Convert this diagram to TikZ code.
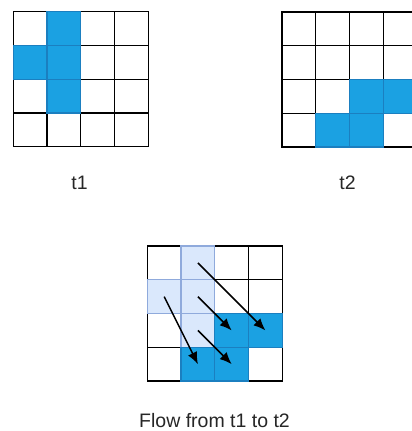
\documentclass[tikz,border=0pt]{standalone}
\usepackage{fontspec}
\setmainfont{Liberation Sans}
\usetikzlibrary{arrows.meta}
\definecolor{fullblue}{HTML}{1BA1E2}
\definecolor{fullline}{HTML}{1B7FC0}
\definecolor{paleblue}{HTML}{DAE8FC}
\definecolor{paleline}{HTML}{8FAADC}
\begin{document}
\begin{tikzpicture}[x = {(1pt,0pt)},
  y = {(0pt,-1pt)},
  cell/.style  = {draw=black, line width=1.2pt, fill=white,
                  minimum size=33.75pt, inner sep=0pt},
  full/.style  = {cell, fill=fullblue, draw=fullline},
  pale/.style  = {cell, fill=paleblue, draw=paleline},
  flow/.style  = {->, >={Latex[length=12pt,width=10pt]}, line width=1.5pt},
  caption/.style = {font=\fontsize{19.5pt}{23pt}\selectfont, text=black!85, anchor=base}]

  \useasboundingbox (0,0) rectangle (412,431);

  % cell size and grid corners
  \def\cs{33.75}
  \def\ax{13.3}  \def\ay{11.7}
  \def\bx{282}   \def\by{12}
  \def\cx{147.3} \def\cy{246}

  % grids
  \foreach \r in {0,1,...,3}
  \foreach \c in {0,1,...,3}
  {
  \node[cell] (a-\r-\c) at (\ax+\cs*\c+\cs/2, \ay+\cs*\r+\cs/2) {};
  \node[cell] (b-\r-\c) at (\bx+\cs*\c+\cs/2, \by+\cs*\r+\cs/2) {};
  \node[cell] (c-\r-\c) at (\cx+\cs*\c+\cs/2, \cy+\cs*\r+\cs/2) {};
  }

  % occupied cells at t1
  \foreach \r/\c in {0/1, 1/0, 1/1, 2/1}
  {
  \node[full] (a-\r-\c-on) at (a-\r-\c) {};
  \node[pale] (c-\r-\c-old) at (c-\r-\c) {};
  }

  % occupied cells at t2
  \foreach \r/\c in {2/2, 2/3, 3/1, 3/2}
  {
  \node[full] (b-\r-\c-on) at (b-\r-\c) {};
  \node[full] (c-\r-\c-new) at (c-\r-\c) {};
  }

  % flow vectors
  \draw[flow] (c-0-1.center) -- (c-2-3.center);
  \draw[flow] (c-1-0.center) -- (c-3-1.center);
  \draw[flow] (c-1-1.center) -- (c-2-2.center);
  \draw[flow] (c-2-1.center) -- (c-3-2.center);

  % captions
  \node[caption] (t1)   at (79.5,189)  {t1};
  \node[caption] (t2)   at (347.5,189) {t2};
  \node[caption] (flow) at (214.5,427) {Flow from t1 to t2};

\end{tikzpicture}
\end{document}
